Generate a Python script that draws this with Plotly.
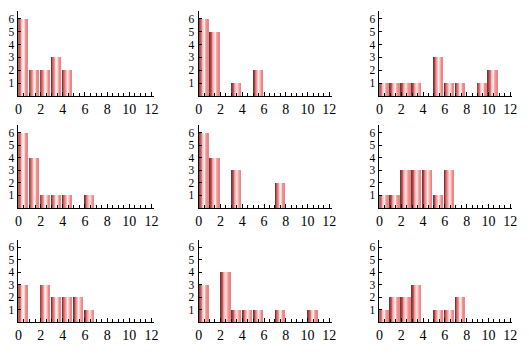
import plotly.graph_objects as go

bins = list(range(12))
x_tick_labels = ["0", "2", "4", "6", "8", "10", "12"]
y_tick_labels = ["1", "2", "3", "4", "5", "6"]

counts_1 = [6, 2, 2, 3, 2, 0, 0, 0, 0, 0, 0, 0]
counts_2 = [6, 5, 0, 1, 0, 2, 0, 0, 0, 0, 0, 0]
counts_3 = [1, 1, 1, 1, 0, 3, 1, 1, 0, 1, 2, 0]
counts_4 = [6, 4, 1, 1, 1, 0, 1, 0, 0, 0, 0, 0]
counts_5 = [6, 4, 0, 3, 0, 0, 0, 2, 0, 0, 0, 0]
counts_6 = [1, 1, 3, 3, 3, 1, 3, 0, 0, 0, 0, 0]
counts_7 = [3, 0, 3, 2, 2, 2, 1, 0, 0, 0, 0, 0]
counts_8 = [3, 0, 4, 1, 1, 1, 0, 1, 0, 0, 1, 0]
counts_9 = [1, 2, 2, 3, 0, 1, 1, 2, 0, 0, 0, 0]

panels = [counts_1, counts_2, counts_3,
          counts_4, counts_5, counts_6,
          counts_7, counts_8, counts_9]

# horizontal gradient of each bar (left -> right)
strip_colors = [
    "rgb(120,52,52)", "rgb(155,70,70)", "rgb(192,92,92)", "rgb(222,120,120)",
    "rgb(243,152,152)", "rgb(252,188,188)", "rgb(255,220,220)", "rgb(255,238,238)",
    "rgb(255,208,208)", "rgb(248,172,172)", "rgb(240,147,147)", "rgb(234,136,136)",
]
BAR_W = 0.85

x_domains = [[0.0278, 0.2879], [0.3743, 0.6299], [0.7221, 0.9777]]
y_domains = [[0.7311, 0.9692], [0.4174, 0.6499], [0.0980, 0.3277]]

fig = go.Figure()
xfont = dict(family="Liberation Serif, Times New Roman, serif", size=14, color="black")
yfont = dict(family="Liberation Serif, Times New Roman, serif", size=11.5, color="black")
n = len(strip_colors)
for i, counts in enumerate(panels):
    r, c = divmod(i, 3)
    idx = i + 1
    xa = "x" if idx == 1 else f"x{idx}"
    ya = "y" if idx == 1 else f"y{idx}"
    xs = [b for b, v in zip(bins, counts) if v > 0]
    ys = [v for v in counts if v > 0]
    for s, col in enumerate(strip_colors):
        fig.add_trace(go.Bar(
            x=xs, y=ys, xaxis=xa, yaxis=ya,
            width=BAR_W / n + 0.004, offset=s * BAR_W / n,
            marker=dict(color=col, line=dict(width=0)),
            showlegend=False, hoverinfo="skip",
        ))
    axis_common = dict(showgrid=False, zeroline=False, showline=True,
                       linecolor="black", linewidth=1, ticks="inside",
                       tickcolor="black")
    fig.layout[f"xaxis{idx if idx > 1 else ''}"] = dict(
        axis_common, domain=x_domains[c], anchor=ya, range=[0, 12.2],
        tickvals=[0, 2, 4, 6, 8, 10, 12], ticktext=x_tick_labels, ticklen=4,
        tickfont=xfont,
        minor=dict(dtick=0.5, tick0=0, ticks="inside", ticklen=3, tickcolor="black"),
    )
    fig.layout[f"yaxis{idx if idx > 1 else ''}"] = dict(
        axis_common, domain=y_domains[r], anchor=xa, range=[0, 6.6],
        tickvals=[1, 2, 3, 4, 5, 6], ticktext=y_tick_labels, ticklen=3,
        tickfont=yfont, ticklabelstandoff=1,
    )

fig.update_layout(
    width=529, height=357, margin=dict(l=0, r=0, t=0, b=0),
    paper_bgcolor="white", plot_bgcolor="white",
    barmode="overlay", bargap=0,
)
fig.write_html("out.html", config={"displayModeBar": False},
               post_script="document.body.style.margin='0';")
